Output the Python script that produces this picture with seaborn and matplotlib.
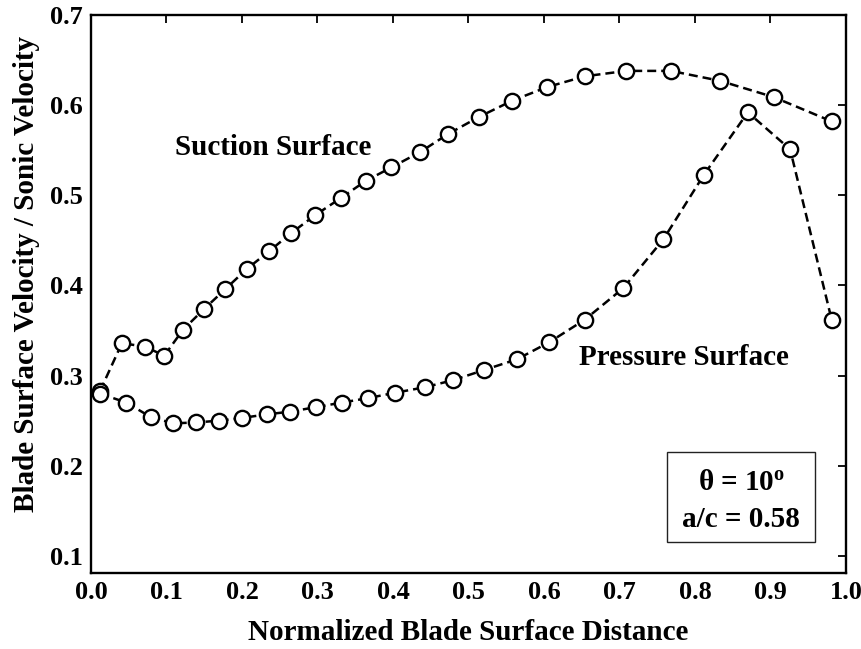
import matplotlib
matplotlib.use("Agg")
import matplotlib.pyplot as plt
import seaborn as sns
import pandas as pd
from matplotlib.patches import Rectangle

# ---- data ----
suction_x = [0.012, 0.041, 0.072, 0.097, 0.122, 0.150, 0.178, 0.206, 0.236, 0.265,
             0.297, 0.331, 0.364, 0.398, 0.436, 0.473, 0.514, 0.558, 0.604, 0.654,
             0.709, 0.768, 0.833, 0.904, 0.981]
suction_y = [0.283, 0.336, 0.332, 0.322, 0.351, 0.374, 0.396, 0.418, 0.438, 0.458,
             0.478, 0.497, 0.516, 0.531, 0.548, 0.568, 0.587, 0.605, 0.620, 0.632,
             0.638, 0.638, 0.627, 0.609, 0.582]

pressure_x = [0.012, 0.047, 0.079, 0.109, 0.139, 0.170, 0.200, 0.233, 0.264, 0.298,
              0.332, 0.367, 0.403, 0.442, 0.480, 0.520, 0.564, 0.607, 0.654, 0.705,
              0.758, 0.812, 0.870, 0.926, 0.981]
pressure_y = [0.280, 0.270, 0.254, 0.247, 0.248, 0.250, 0.253, 0.257, 0.260, 0.265,
              0.270, 0.275, 0.281, 0.287, 0.295, 0.306, 0.318, 0.337, 0.362, 0.397,
              0.451, 0.523, 0.592, 0.551, 0.362]

x_ticks = [0.0, 0.1, 0.2, 0.3, 0.4, 0.5, 0.6, 0.7, 0.8, 0.9, 1.0]
y_ticks = [0.1, 0.2, 0.3, 0.4, 0.5, 0.6, 0.7]

x_label = "Normalized Blade Surface Distance"
y_label = "Blade Surface Velocity / Sonic Velocity"
suction_label = "Suction Surface"
pressure_label = "Pressure Surface"
box_line1 = "\u03b8 = 10$^{\\mathrm{o}}$"
box_line2 = "a/c = 0.58"

# ---- style ----
sns.set_theme(style="white")
plt.rcParams["font.family"] = ["Liberation Serif", "DejaVu Serif"]
plt.rcParams["font.weight"] = "bold"
plt.rcParams["text.color"] = "black"
plt.rcParams["axes.labelcolor"] = "black"
plt.rcParams["xtick.color"] = "black"
plt.rcParams["ytick.color"] = "black"
plt.rcParams["mathtext.fontset"] = "custom"
plt.rcParams["mathtext.rm"] = "Liberation Serif"
plt.rcParams["mathtext.bf"] = "Liberation Serif:bold"
plt.rcParams["mathtext.it"] = "Liberation Serif:italic"

fig = plt.figure(figsize=(8.62, 6.49), dpi=100)
fig.patch.set_facecolor("white")
ax = fig.add_axes([91 / 862, (649 - 573) / 649, 755 / 862, 558 / 649])

df_s = pd.DataFrame({"x": suction_x, "y": suction_y})
df_p = pd.DataFrame({"x": pressure_x, "y": pressure_y})

line_kw = dict(color="black", marker="o", markersize=11, markerfacecolor="white",
               markeredgecolor="black", markeredgewidth=1.7, linewidth=1.8,
               linestyle=(0, (3.6, 2.0)), sort=False, estimator=None)
sns.lineplot(data=df_s, x="x", y="y", ax=ax, **line_kw)
sns.lineplot(data=df_p, x="x", y="y", ax=ax, **line_kw)

ax.set_xlim(0.0, 1.0)
ax.set_ylim(0.081, 0.7)
ax.set_xticks(x_ticks)
ax.set_yticks(y_ticks)
ax.set_xticklabels([f"{v:.1f}" for v in x_ticks], fontsize=19, fontweight="bold")
ax.set_yticklabels([f"{v:.1f}" for v in y_ticks], fontsize=19, fontweight="bold")
ax.tick_params(direction="in", length=6, width=1.3, top=True, right=True,
               colors="black", pad=6)
for sp in ax.spines.values():
    sp.set_color("black")
    sp.set_linewidth(1.7)
    sp.set_visible(True)

ax.set_xlabel(x_label, fontsize=21, fontweight="bold", va="center", color="black")
ax.set_ylabel(y_label, fontsize=21, fontweight="bold", va="center", color="black")
ax.xaxis.set_label_coords(0.5, -0.1075)
ax.yaxis.set_label_coords(-0.086, 0.535)

ax.text(0.241, 0.553, suction_label, fontsize=21, fontweight="bold",
        ha="center", va="center", color="black")
ax.text(0.785, 0.320, pressure_label, fontsize=21, fontweight="bold",
        ha="center", va="center", color="black")

ax.add_patch(Rectangle((0.763, 0.0556), 0.959 - 0.763, 0.217 - 0.0556,
                       transform=ax.transAxes, fill=True, facecolor="white",
                       edgecolor="#222222", linewidth=1.0, zorder=3))
ax.text(0.861, 0.163, box_line1, transform=ax.transAxes, fontsize=21,
        fontweight="bold", ha="center", va="center", zorder=4, color="black")
ax.text(0.861, 0.095, box_line2, transform=ax.transAxes, fontsize=21,
        fontweight="bold", ha="center", va="center", zorder=4, color="black")

fig.savefig("out.png", dpi=100, facecolor="white")
